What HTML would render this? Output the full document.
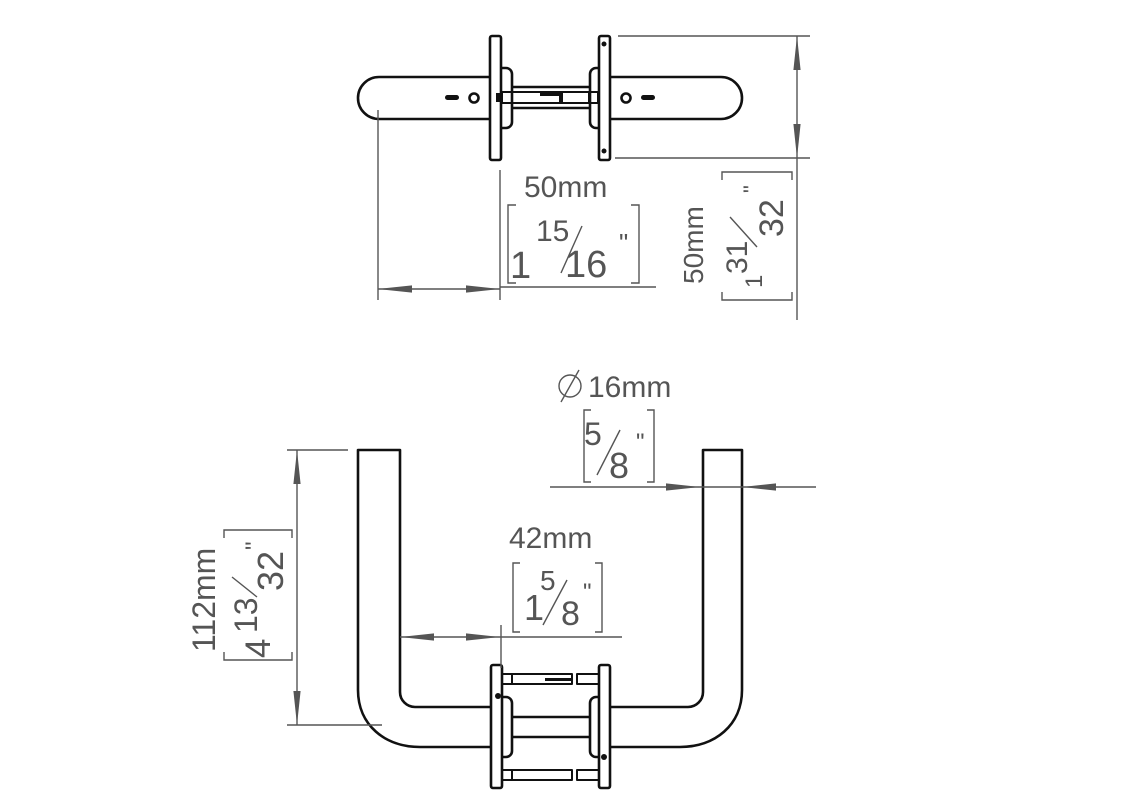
<!DOCTYPE html>
<html><head><meta charset="utf-8"><style>
html,body{margin:0;padding:0;background:#fff;}
svg{display:block;}
text{font-family:"Liberation Sans",sans-serif;fill:#555;}
</style></head><body>
<svg width="1130" height="800" viewBox="0 0 1130 800" xmlns="http://www.w3.org/2000/svg">
<defs>
<marker id="a" viewBox="0 0 10 10" refX="10" refY="5" markerWidth="34" markerHeight="9" markerUnits="userSpaceOnUse" preserveAspectRatio="none" orient="auto-start-reverse"><path d="M0 1 L10 5 L0 9 Z" fill="#555"/></marker>
</defs>
<!-- ===== TOP VIEW ===== -->
<g fill="none" stroke="#111" stroke-width="2.6" stroke-linejoin="round">
<path d="M490 77 H379 A21 21 0 0 0 379 119 H490"/>
<path d="M610 77 H721 A21 21 0 0 1 721 119 H610"/>
<rect x="490" y="36" width="11" height="124" rx="2"/>
<rect x="599" y="36" width="11" height="124" rx="2"/>
<path d="M501 68 H506 A6 6 0 0 1 512 74 V122 A6 6 0 0 1 506 128 H501"/>
<path d="M599 68 H596 A6 6 0 0 0 590 74 V122 A6 6 0 0 0 596 128 H599"/>
<line x1="512" y1="87" x2="590" y2="87"/>
<line x1="512" y1="108" x2="590" y2="108"/>
<rect x="502" y="92" width="60" height="11" stroke-width="2"/>
<rect x="560" y="92" width="38" height="11" stroke-width="2"/>
<rect x="589" y="92" width="10" height="11" stroke-width="2"/>
<circle cx="474" cy="98" r="4.5"/>
<circle cx="626" cy="98" r="4.5"/>
</g>
<g fill="#111">
<rect x="445" y="95" width="14" height="5" rx="2.5"/>
<rect x="641" y="95" width="14" height="5" rx="2.5"/>
<rect x="496" y="93" width="6" height="9"/>
<rect x="540" y="92" width="22" height="4"/>
<circle cx="604" cy="44" r="2.5"/>
<circle cx="604" cy="151" r="2.5"/>
</g>
<!-- top dims -->
<g stroke="#555" stroke-width="1.4" fill="none">
<line x1="618" y1="36" x2="810" y2="36"/>
<line x1="615" y1="158" x2="810" y2="158"/>
<line x1="797" y1="36" x2="797" y2="158" marker-start="url(#a)" marker-end="url(#a)"/>
<line x1="797" y1="158" x2="797" y2="320"/>
<line x1="378" y1="110" x2="378" y2="300"/>
<line x1="500" y1="170" x2="500" y2="300"/>
<line x1="378" y1="289" x2="439" y2="289" marker-start="url(#a)"/>
<line x1="439" y1="289" x2="500" y2="289" marker-end="url(#a)"/>
<line x1="500" y1="287" x2="656" y2="287"/>
<path d="M516 205 H508 V283 H516 M631 205 H639 V283 H631"/>
<line x1="561" y1="273" x2="582" y2="226"/>
</g>
<text x="524" y="197" font-size="30">50mm</text>
<text x="510" y="278" font-size="38">1</text>
<text x="536" y="241" font-size="30">15</text>
<text x="565" y="277" font-size="38">16</text>
<text x="619" y="252" font-size="26">"</text>
<!-- rotated 50mm -->
<g transform="translate(757,236) rotate(-90)">
<g stroke="#555" stroke-width="1.4" fill="none">
<path d="M-56 -35 H-64 V35 H-56 M56 -35 H64 V35 H56"/>
<line x1="-11" y1="0" x2="19" y2="-27"/>
</g>
<text x="-48" y="-54" font-size="28">50mm</text>
<text x="-52" y="5" font-size="24">1</text>
<text x="-38" y="-10" font-size="30">31</text>
<text x="-1" y="26" font-size="34">32</text>
<text x="43" y="2" font-size="22">"</text>
</g>
<!-- ===== BOTTOM VIEW ===== -->
<g fill="none" stroke="#111" stroke-width="2.6" stroke-linejoin="round">
<path d="M491 747 H420 C385 747 358 725 358 690 V450 H400 V692 A15 15 0 0 0 415 707 H491"/>
<path d="M610 747 H680 C715 747 742 725 742 690 V450 H703 V692 A15 15 0 0 1 688 707 H610"/>
<rect x="491" y="665" width="11" height="123" rx="2"/>
<rect x="599" y="665" width="11" height="123" rx="2"/>
<path d="M502 697 H506 A6 6 0 0 1 512 703 V751 A6 6 0 0 1 506 757 H502"/>
<path d="M599 697 H596 A6 6 0 0 0 590 703 V751 A6 6 0 0 0 596 757 H599"/>
<line x1="512" y1="717" x2="590" y2="717"/>
<line x1="512" y1="737" x2="590" y2="737"/>
<g stroke-width="2">
<rect x="502" y="674" width="10" height="10"/>
<rect x="512" y="674" width="60" height="10"/>
<rect x="577" y="674" width="22" height="10"/>
<rect x="502" y="770" width="10" height="10"/>
<rect x="512" y="770" width="60" height="10"/>
<rect x="577" y="770" width="22" height="10"/>
</g>
</g>
<g fill="#111"><circle cx="498" cy="696" r="3"/><circle cx="604" cy="757" r="3"/><rect x="545" y="678" width="28" height="3"/></g>
<!-- bottom dims -->
<g stroke="#555" stroke-width="1.4" fill="none">
<line x1="287" y1="450" x2="348" y2="450"/>
<line x1="287" y1="725" x2="382" y2="725"/>
<line x1="297" y1="450" x2="297" y2="725" marker-start="url(#a)" marker-end="url(#a)"/>
<path d="M224 538 V530 H292 V538 M224 652 V660 H292 V652" />
<line x1="400" y1="637" x2="450" y2="637" marker-start="url(#a)"/>
<line x1="450" y1="637" x2="500" y2="637" marker-end="url(#a)"/>
<line x1="500" y1="637" x2="622" y2="637"/>
<line x1="501" y1="625" x2="501" y2="668"/>
<path d="M520 563 H513 V632 H520 M595 563 H602 V632 H595"/>
<line x1="543" y1="625" x2="567" y2="580"/>
<line x1="550" y1="487" x2="700" y2="487" marker-end="url(#a)"/>
<line x1="816" y1="487" x2="742" y2="487" marker-end="url(#a)"/>
<line x1="700" y1="487" x2="742" y2="487"/>
<path d="M591 410 H584 V482 H591 M647 410 H654 V482 H647"/>
<line x1="597" y1="475" x2="620" y2="430"/>
<circle cx="570" cy="386" r="11"/>
<line x1="561" y1="402" x2="579" y2="370"/>
</g>
<text x="588" y="397" font-size="30">16mm</text>
<text x="584" y="445" font-size="32">5</text>
<text x="609" y="478" font-size="36">8</text>
<text x="636" y="450" font-size="24">"</text>
<text x="509" y="548" font-size="30">42mm</text>
<text x="524" y="620" font-size="36">1</text>
<text x="540" y="590" font-size="28">5</text>
<text x="561" y="625" font-size="34">8</text>
<text x="583" y="600" font-size="24">"</text>
<g transform="translate(261,595) rotate(-90)">
<line x1="-2" y1="-4" x2="18" y2="-29" stroke="#555" stroke-width="1.4"/>
<text x="-57" y="-46" font-size="32">112mm</text>
<text x="-63" y="9" font-size="35">4</text>
<text x="-38" y="-4" font-size="32">13</text>
<text x="4" y="22" font-size="36">32</text>
<text x="45" y="1" font-size="24">"</text>
</g>
</svg>
</body></html>
